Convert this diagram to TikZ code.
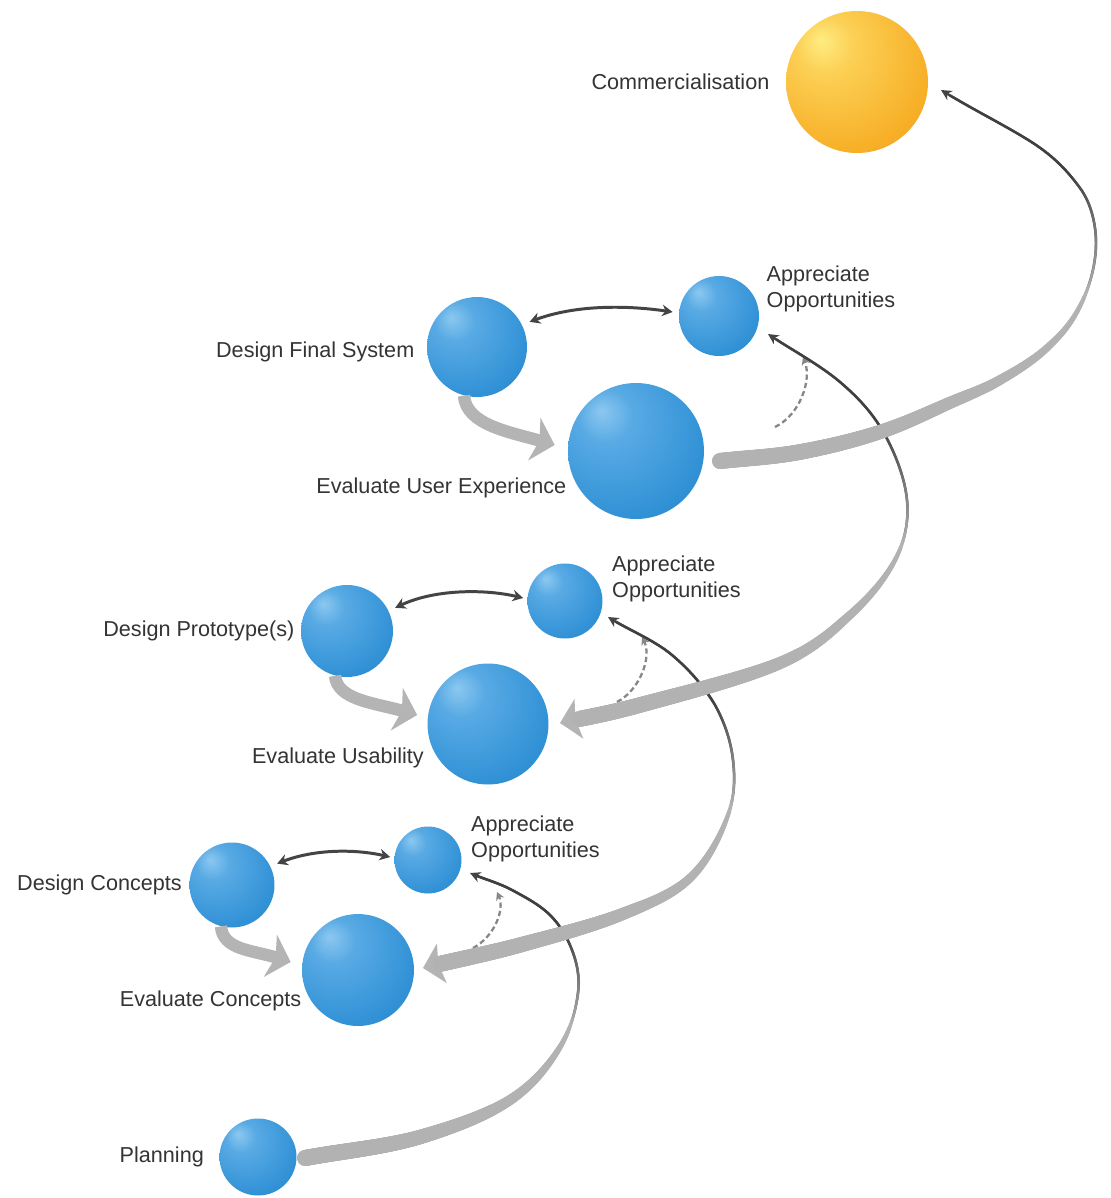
\documentclass[tikz,border=0pt]{standalone}
\usepackage{fontspec}
\setmainfont{Liberation Sans}
\usetikzlibrary{calc}
\usetikzlibrary{positioning}
\usetikzlibrary{arrows.meta}
\usetikzlibrary{decorations.markings}

\definecolor{labelgrey}{RGB}{52,52,52}
\definecolor{linkgrey}{RGB}{68,68,68}
\definecolor{flowgrey}{RGB}{180,180,180}
\definecolor{hintgrey}{RGB}{135,135,135}
\definecolor{bluehi}{RGB}{140,200,240}
\definecolor{bluelight}{RGB}{88,170,228}
\definecolor{bluemain}{RGB}{50,146,214}
\definecolor{bluedark}{RGB}{36,124,198}
\definecolor{blueedge}{RGB}{30,108,182}
\definecolor{orangehi}{RGB}{255,236,130}
\definecolor{orangelight}{RGB}{252,208,85}
\definecolor{orangemain}{RGB}{247,176,40}
\definecolor{orangedark}{RGB}{241,152,25}
\definecolor{orangeedge}{RGB}{234,136,18}

\pgfdeclareradialshading{bluesphere}{\pgfpoint{-13bp}{15bp}}{color(0bp)=(bluehi); color(10bp)=(bluelight); color(32bp)=(bluemain); color(52bp)=(bluedark); color(70bp)=(blueedge)}
\pgfdeclareradialshading{orangesphere}{\pgfpoint{-13bp}{15bp}}{color(0bp)=(orangehi); color(10bp)=(orangelight); color(32bp)=(orangemain); color(52bp)=(orangedark); color(70bp)=(orangeedge)}

\tikzset{
    sphere/.style={circle, minimum size=#1, inner sep=0pt, shading=bluesphere},
    stage/.style={font=\fontsize{12.3}{14.8}\selectfont, text=labelgrey, inner sep=0pt},
    link/.style={draw=linkgrey, line width=1.7pt, {Stealth[length=6pt, width=6.5pt]}-{Stealth[length=6pt, width=6.5pt]}},
    flow/.style={draw=flowgrey, line width=7pt, -{Stealth[length=12pt, width=25pt, inset=3pt]}},
    hint/.style={draw=hintgrey, line width=1.3pt, dash pattern=on 3pt off 1.8pt, -{Stealth[length=4.5pt, width=5pt]}},
    % tapering band: thick grey at the start, thin and dark at the end
    helix/.style 2 args={draw=linkgrey, line width=1.4pt,
        postaction={decorate, decoration={markings,
            mark=between positions #1 and #2 step 0.0015 with {
                \pgfmathsetmacro\hpos{#1+0.0015*(\pgfkeysvalueof{/pgf/decoration/mark info/sequence number}-1)}
                \pgfmathsetmacro\hrad{\hpos<0.62 ? 0.8+3.8*(1-(\hpos/0.62)^2) : 0.8}
                \pgfmathsetmacro\hink{\hpos<0.6 ? 30 : min(75, 30+(\hpos-0.6)*250)}
                \fill[black!\hink] (0,0) circle[radius=\hrad pt];
            }}}},
}

\begin{document}
\begin{tikzpicture}[x=0.02cm, y=-0.02cm]
    \useasboundingbox (0,0) rectangle (1111,1198);
    \fill[white] (0,0) rectangle (1111,1198);

    % stages
    \node[sphere=2.84cm, shading=orangesphere] (commercial) at (857,82) {};
    \node[sphere=2cm] (final) at (477,347) {};
    \node[sphere=1.6cm] (final opp) at (719,316) {};
    \node[sphere=2.72cm] (ux) at (636,451) {};
    \node[sphere=1.84cm] (prototype) at (347,631) {};
    \node[sphere=1.5cm] (prototype opp) at (565,601) {};
    \node[sphere=2.42cm] (usability) at (488,724) {};
    \node[sphere=1.7cm] (concepts) at (232,885) {};
    \node[sphere=1.34cm] (concepts opp) at (428,860) {};
    \node[sphere=2.24cm] (evaluation) at (358,970) {};
    \node[sphere=1.54cm] (planning) at (258,1157) {};

    % labels
    \node[stage, left=0.32cm of commercial] (commercial label) {Commercialisation};
    \node[stage, anchor=east] (final label) at ($(final.west)+(-12,5)$) {Design Final System};
    \node[stage, anchor=east] (ux label) at ($(ux.west)+(-1,37)$) {Evaluate User Experience};
    \node[stage, anchor=west, align=left] (final opp label) at ($(final opp.east)+(7,-27)$) {Appreciate\\Opportunities};
    \node[stage, left=0.12cm of prototype] (prototype label) {Design Prototype(s)};
    \node[stage, anchor=east] (usability label) at ($(usability.west)+(-3,34)$) {Evaluate Usability};
    \node[stage, anchor=west, align=left] (prototype opp label) at ($(prototype opp.east)+(9,-22)$) {Appreciate\\Opportunities};
    \node[stage, left=0.14cm of concepts] (concepts label) {Design Concepts};
    \node[stage, anchor=east] (evaluation label) at ($(evaluation.west)+(0,31)$) {Evaluate Concepts};
    \node[stage, anchor=west, align=left] (concepts opp label) at ($(concepts opp.east)+(9,-21)$) {Appreciate\\Opportunities};
    \node[stage, left=0.3cm of planning] (planning label) {Planning};

    % design <-> opportunities
    \draw[link] ($(final.30)+(9,0)$) .. controls (575,305) and (625,305) .. ($(final opp.west)+(-6,-4)$);
    \draw[link] ($(prototype.30)+(8,0)$) .. controls (435,589) and (485,589) .. ($(prototype opp.west)+(-4,-3)$);
    \draw[link] ($(concepts.30)+(8,0)$) .. controls (315,849) and (355,849) .. ($(concepts opp.west)+(-4,-3)$);

    % design -> evaluate
    \draw[flow] (final.255) .. controls (466,425) and (510,432) .. ($(ux.west)+(-13,-6)$);
    \draw[flow] (prototype.255) .. controls (337,700) and (375,703) .. ($(usability.west)+(-10,-9)$);
    \draw[flow] (concepts.255) .. controls (223,950) and (252,950) .. ($(evaluation.west)+(-11,-8)$);

    % evaluate -> opportunities (dashed)
    \draw[hint] ($(ux)+(139,-24)$) .. controls (800,415) and (812,380) .. ($(final opp)+(84,41)$);
    \draw[hint] ($(usability)+(129,-22)$) .. controls (640,690) and (652,657) .. ($(prototype opp)+(77,36)$);
    \draw[hint] ($(evaluation)+(115,-22)$) .. controls (494,937) and (505,910) .. ($(concepts opp)+(69,32)$);

    % spiral ends
    \coordinate (planning out) at ($(planning)+(47,1)$);
    \coordinate (concepts in) at ($(concepts opp)+(42,13)$);
    \coordinate (evaluation in) at ($(evaluation)+(65,-2)$);
    \coordinate (prototype in) at ($(prototype opp)+(43,16)$);
    \coordinate (usability in) at ($(usability)+(72,-1)$);
    \coordinate (final in) at ($(final opp)+(49,18)$);
    \coordinate (ux out) at ($(ux)+(84,10)$);
    \coordinate (commercial in) at ($(commercial)+(84,8)$);

    % spiral
    \draw[helix={0}{0.985}, -{Stealth[color=linkgrey, length=6pt, width=6pt]}]
        (planning out) .. controls (343,1151) and (386,1147) .. (420,1137)
        .. controls (454,1127) and (487,1115) .. (510,1100)
        .. controls (533,1085) and (549,1065) .. (560,1047)
        .. controls (571,1029) and (576,1009) .. (578,993)
        .. controls (580,977) and (577,963) .. (572,950)
        .. controls (567,937) and (560,925) .. (550,915)
        .. controls (540,905) and (525,897) .. (512,890)
        .. controls (499,883) and (484,879) .. (concepts in);
    \draw[helix={0.03}{0.985}, {Stealth[color=flowgrey, length=11pt, width=23pt, inset=2pt]}-{Stealth[color=linkgrey, length=6pt, width=6pt]}]
        (evaluation in) .. controls (455,960) and (487,954) .. (520,945)
        .. controls (553,936) and (592,926) .. (620,915)
        .. controls (648,904) and (672,895) .. (690,878)
        .. controls (708,861) and (721,835) .. (728,815)
        .. controls (735,795) and (735,778) .. (733,760)
        .. controls (731,742) and (725,723) .. (715,705)
        .. controls (705,688) and (690,670) .. (672,655)
        .. controls (654,640) and (629,630) .. (prototype in);
    \draw[helix={0.03}{0.985}, {Stealth[color=flowgrey, length=11pt, width=23pt, inset=2pt]}-{Stealth[color=linkgrey, length=6pt, width=6pt]}]
        (usability in) .. controls (587,717) and (603,715) .. (640,705)
        .. controls (677,695) and (745,678) .. (780,663)
        .. controls (815,648) and (831,632) .. (850,615)
        .. controls (869,598) and (885,579) .. (895,560)
        .. controls (905,541) and (909,521) .. (907,500)
        .. controls (905,479) and (896,455) .. (885,435)
        .. controls (874,415) and (860,399) .. (840,382)
        .. controls (820,365) and (792,350) .. (final in);
    \draw[helix={0}{0.985}, -{Stealth[color=linkgrey, length=6pt, width=6pt]}]
        (ux out) .. controls (747,458) and (773,457) .. (800,452)
        .. controls (827,447) and (856,440) .. (880,432)
        .. controls (904,424) and (925,414) .. (945,405)
        .. controls (965,396) and (983,390) .. (1000,380)
        .. controls (1018,370) and (1037,358) .. (1050,345)
        .. controls (1063,333) and (1073,321) .. (1082,302)
        .. controls (1091,283) and (1096,262) .. (1096,243)
        .. controls (1096,224) and (1091,203) .. (1080,188)
        .. controls (1069,173) and (1056,158) .. (1033,143)
        .. controls (1010,128) and (972,109) .. (commercial in);
\end{tikzpicture}
\end{document}
